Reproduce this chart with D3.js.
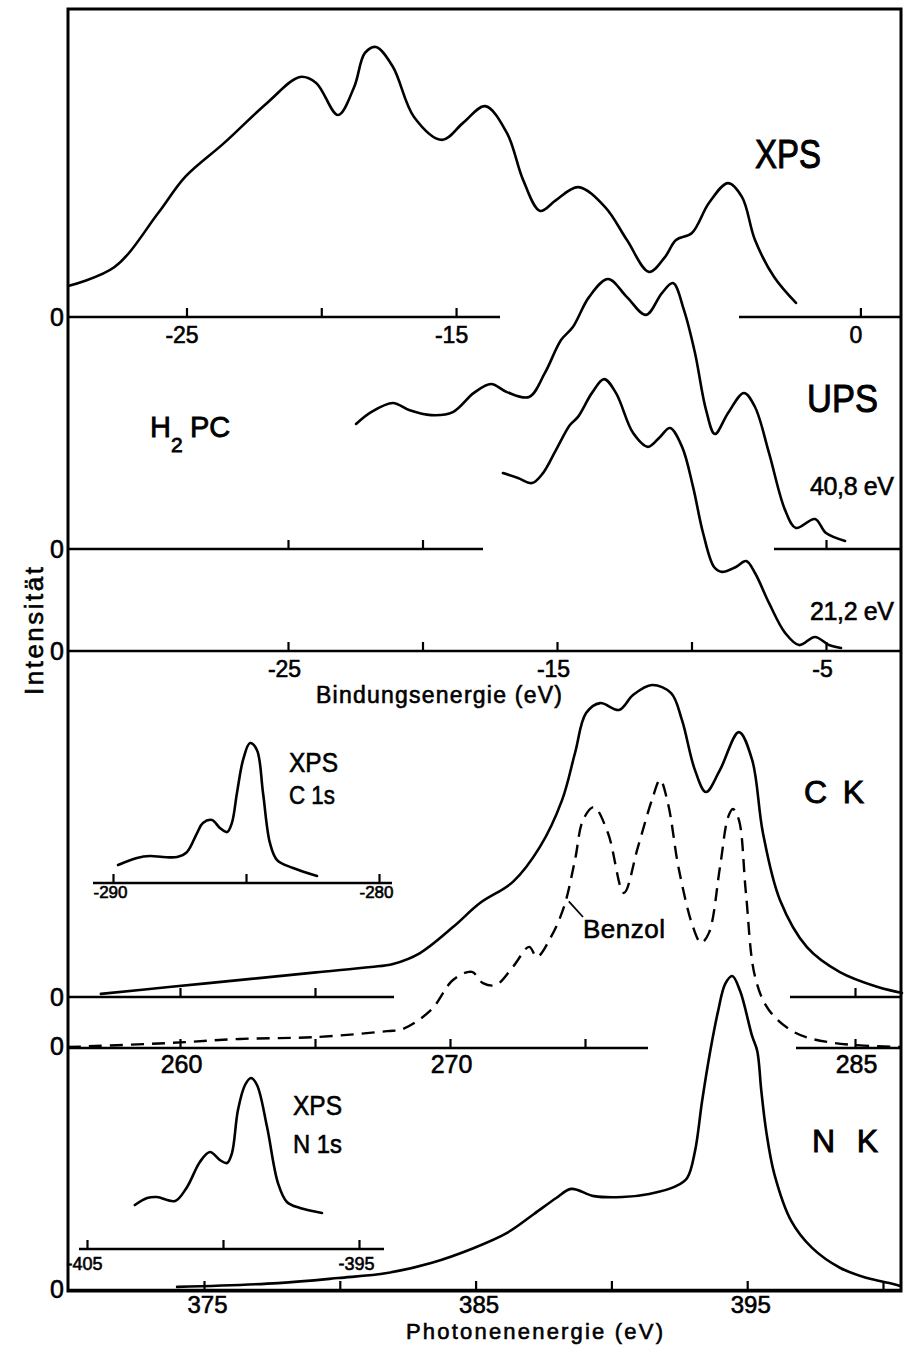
<!DOCTYPE html>
<html><head><meta charset="utf-8">
<script src="https://cdn.jsdelivr.net/npm/d3@7"></script>
<style>
html,body{margin:0;padding:0;background:#fff;}
svg{display:block;}
text{font-family:"Liberation Sans", Arial, sans-serif; fill:#000; stroke:#000; stroke-width:0.6px;}
</style></head><body>
<svg id="chart" width="910" height="1345"></svg>
<script>
// ===== DATA =====
// XPS valence band of H2PC: binding energy (eV) / intensity (a.u.)
const xpsEnergy = [-29.39,-27.67,-26.05,-25.05,-23.61,-22.01,-20.79,-20.19,-19.38,-18.78,-18.38,-17.97,-17.34,-16.56,-15.52,-14.74,-13.92,-13.11,-12.51,-11.88,-11.29,-10.47,-9.47,-8.66,-7.84,-7.25,-6.84,-6.25,-5.62,-4.91,-4.39,-3.91,-3.20,-2.39];
const xpsIntensity = [11.5,18.5,38.5,51.9,64.4,79.3,88.9,86.7,74.8,85.2,97.8,100,92.6,74.1,65.6,71.9,78.1,68.1,50.7,39.3,43.3,48.1,40.7,28.5,16.7,22.2,28.5,31.1,42.2,49.6,44.4,28.5,14.8,5.2];

// UPS 40,8 eV
const ups40Energy = [-22.47,-21.91,-21.10,-20.50,-19.68,-18.87,-18.09,-17.45,-16.86,-16.04,-15.45,-14.85,-14.41,-13.81,-13.10,-12.40,-11.69,-11.10,-10.69,-10.28,-9.87,-9.46,-9.13,-8.64,-8.05,-7.64,-7.12,-6.52,-6.12,-5.41,-5.00,-4.29];
const ups40Intensity = [46.3,50.7,54.1,51.5,49.6,50.7,57.8,61.1,58.1,56.3,65.2,77.4,82.2,93.3,100,93.3,86.7,94.8,98.5,88.5,72.6,51.5,42.6,50.4,57.8,52.6,35.6,14.4,7.8,11.1,5.9,3.0];

// UPS 21,2 eV
const ups21Energy = [-17.01,-16.45,-15.93,-15.52,-15.04,-14.52,-14.22,-13.70,-13.25,-12.81,-12.17,-11.62,-11.17,-10.80,-10.35,-9.94,-9.57,-9.16,-8.87,-8.35,-7.97,-7.64,-7.12,-6.52,-6.00,-5.41,-4.89,-4.44];
const ups21Intensity = [65.9,64.1,62.2,65.9,74.4,83.7,86.7,95.6,100.7,95.6,80.7,75.6,79.3,82.6,75.6,60.7,43.7,31.1,29.3,31.1,33.3,28.9,17.8,6.7,2.2,5.2,2.2,1.1];

// C K emission (photon energy eV)
const ckEnergy = [257.07,259.59,262.63,265.04,267.07,267.89,268.89,270.11,271.11,272.33,273.33,274.15,274.63,275.04,275.56,276.26,276.78,277.48,278.19,278.59,279.07,279.48,280.00,280.70,281.19,281.59,282.22,283.22,284.44,285.85,286.74];
const ckIntensity = [1.0,3.2,5.8,7.9,9.6,10.6,14.1,22.4,30.1,36.9,48.1,63.1,78.2,91.0,94.2,92.0,96.8,100,97.4,88.8,72.8,65.7,72.8,84.9,76.0,52.6,31.1,16.0,8.0,3.2,1.3];

// Benzol C K (dashed)
const benzolEnergy = [255.85,259.59,262.22,265.0,267.67,268.26,269.30,270.11,270.81,271.22,271.70,272.33,272.93,273.22,273.74,274.22,274.63,274.93,275.33,275.85,276.44,276.96,277.48,277.78,278.07,278.48,279.0,279.30,279.59,280.0,280.30,280.48,280.70,280.96,281.30,281.81,282.81,284.22,286.74];
const benzolIntensity = [0.3,1.6,2.9,3.5,5.4,6.1,12.2,21.8,24.4,20.8,20.2,26.0,32.4,29.2,35.6,45.2,60.3,73.1,77.2,68.9,49.7,64.4,79.5,85.9,78.5,57.1,38.8,33.7,36.9,58.0,74.0,76.6,73.1,49.7,22.8,12.2,4.8,1.6,0.3];

// N K emission
const nkEnergy = [374.01,377.73,379.94,381.74,383.36,384.94,386.16,387.15,387.97,388.52,389.36,390.40,391.39,392.38,392.79,393.08,393.34,393.64,393.93,394.19,394.45,394.74,395.18,395.37,395.52,395.70,396.00,396.62,397.39,398.43,399.42,400.23,400.64];
const nkIntensity = [1.0,2.2,3.8,5.4,8.6,13.4,18.2,24.2,29.3,32.2,29.9,29.6,30.6,33.1,35.7,44.3,60.2,76.1,88.9,97.5,100,95.2,80.9,76.1,63.4,50.6,36.9,22.0,13.4,7.0,3.8,2.2,1.3];

// XPS C 1s inset
const c1sEnergy = [-289.81,-289.10,-288.61,-288.12,-287.59,-287.22,-286.84,-286.62,-286.28,-285.98,-285.71,-285.53,-285.34,-285.11,-284.85,-284.59,-284.36,-284.10,-283.83,-283.23,-282.33];
const c1sIntensity = [12.9,17.9,19.3,18.6,18.6,22.1,35.7,42.9,45.0,39.3,36.4,42.9,64.3,87.9,100,95.0,64.3,28.6,16.4,10.7,5.0];

// XPS N 1s inset
const n1sEnergy = [-403.24,-402.79,-402.43,-401.76,-401.32,-400.85,-400.48,-400.11,-399.85,-399.67,-399.45,-399.19,-398.97,-398.75,-398.38,-397.98,-397.65,-397.17,-396.36];
const n1sIntensity = [25.7,29.8,30.4,28.1,36.3,50.9,56.7,52.0,50.3,56.1,81.3,95.9,100,95.9,71.3,38.6,27.5,24.0,21.1];

// Ticks and tick labels
const xpsTicks = [-25,-20,-15,0];             const xpsTickLabels = ["-25","","-15","0"];
const ups40Ticks = [-25,-20,-5];              const ups40TickLabels = ["","",""];
const upsTicks = [-25,-20,-15,-10,-5];        const upsTickLabels = ["-25","","-15","","-5"];
const ckTicks = [260,265,285];                const ckTickLabels = ["","",""];
const benzolTicks = [260,265,270,275,285];    const benzolTickLabels = ["260","","270","","285"];
const nkTicks = [375,380,385,390,395,400];    const nkTickLabels = ["375","","385","","395",""];
const c1sTicks = [-290,-285,-280];            const c1sTickLabels = ["-290","","-280"];
const n1sTicks = [-405,-400,-395];            const n1sTickLabels = ["-405","","-395"];

// ===== DRAWING =====
const svg = d3.select("#chart");
const FRAME = {x0:68, x1:901, y0:9, y1:1291};

// scales
const xXps  = d3.scaleLinear().domain([-25,0]).range([186.5,860.4]);
const yXps  = d3.scaleLinear().domain([0,100]).range([317,47]);
const xUps  = d3.scaleLinear().domain([-25,-5]).range([288,826]);
const yUps40= d3.scaleLinear().domain([0,100]).range([549,279]);
const yUps21= d3.scaleLinear().domain([0,100]).range([651,381]);
const xCk   = d3.scaleLinear().domain([260,285]).range([180,855]);
const yCk   = d3.scaleLinear().domain([0,100]).range([997,685]);
const yBz   = d3.scaleLinear().domain([0,100]).range([1048,736]);
const xNk   = d3.scaleLinear().domain([375,400]).range([204,883]);
const yNk   = d3.scaleLinear().domain([0,100]).range([1290,976]);
const xC1s  = d3.scaleLinear().domain([-290,-280]).range([113,379]);
const yC1s  = d3.scaleLinear().domain([0,100]).range([883,743]);
const xN1s  = d3.scaleLinear().domain([-405,-395]).range([87,359]);
const yN1s  = d3.scaleLinear().domain([0,100]).range([1249,1078]);

// frame
svg.append("rect").attr("x",FRAME.x0).attr("y",FRAME.y0)
  .attr("width",FRAME.x1-FRAME.x0).attr("height",FRAME.y1-FRAME.y0)
  .attr("fill","none").attr("stroke","#000").attr("stroke-width",3);

function axis(xS, yPix, ticks, labels, segs, labelOff, fs, dx){
  const g = svg.append("g").attr("transform",`translate(0,${yPix})`);
  g.call(d3.axisBottom(xS).tickValues(ticks).tickFormat((d,i)=>labels[i])
    .tickSizeInner(-9).tickSizeOuter(0));
  g.select(".domain").remove();
  g.attr("font-family",null).attr("font-size",fs);
  g.selectAll(".tick line").attr("stroke","#000").attr("stroke-width",2.2);
  g.selectAll(".tick text").attr("y",labelOff).attr("dy",0).attr("dx",dx)
    .attr("fill","#000").attr("font-size",fs).style("font-size",fs+"px");
  segs.forEach(([a,b])=>{
    g.append("line").attr("x1",a).attr("x2",b).attr("y1",0).attr("y2",0)
      .attr("stroke","#000").attr("stroke-width",2.6);
  });
}

axis(xXps, 317, xpsTicks, xpsTickLabels, [[68,500],[739,901]], 26, 23, -5);
axis(xUps, 549, ups40Ticks, ups40TickLabels, [[68,483],[774,901]], 26, 23, -4);
axis(xUps, 651, upsTicks, upsTickLabels, [[68,901]], 26, 23, -4);
axis(xCk, 997, ckTicks, ckTickLabels, [[68,394],[790,901]], 25, 25, 0);
axis(xCk, 1048, benzolTicks, benzolTickLabels, [[68,648],[796,901]], 25, 25, 1);
axis(xNk, 1290, nkTicks, nkTickLabels, [[68,901]], 23, 24, 3);
axis(xC1s, 883, c1sTicks, c1sTickLabels, [[93,392]], 15, 17, -3);
axis(xN1s, 1249, n1sTicks, n1sTickLabels, [[79,384]], 21, 18, -3);

function curve(xs, ys, xS, yS, dashed){
  const pts = xs.map((e,i)=>[e, ys[i]]);
  const line = d3.line().x(d=>xS(d[0])).y(d=>yS(d[1])).curve(d3.curveCatmullRom.alpha(0.5));
  const p = svg.append("path").attr("d", line(pts)).attr("fill","none")
    .attr("stroke","#000").attr("stroke-width",2.6).attr("stroke-linejoin","round").attr("stroke-linecap","round");
  if (dashed) p.attr("stroke-dasharray","13,8").attr("stroke-width",2.4).attr("stroke-linecap","butt");
}

curve(xpsEnergy, xpsIntensity, xXps, yXps);
curve(ups40Energy, ups40Intensity, xUps, yUps40);
curve(ups21Energy, ups21Intensity, xUps, yUps21);
curve(ckEnergy, ckIntensity, xCk, yCk);
curve(benzolEnergy, benzolIntensity, xCk, yBz, true);
curve(nkEnergy, nkIntensity, xNk, yNk);
curve(c1sEnergy, c1sIntensity, xC1s, yC1s);
curve(n1sEnergy, n1sIntensity, xN1s, yN1s);

// Benzol leader line
svg.append("line").attr("x1",xCk(274.4)).attr("y1",yBz(47)).attr("x2",583).attr("y2",917)
  .attr("stroke","#000").attr("stroke-width",1.8);

// labels
function label(txt, x, y, size, len, adj){
  const t = svg.append("text").attr("x",x).attr("y",y).attr("font-size",size).text(txt);
  if (len) t.attr("textLength",len).attr("lengthAdjust",adj||"spacingAndGlyphs");
  return t;
}
label("XPS", 755, 168, 40, 66).style("stroke-width","1px");
label("UPS", 807, 412, 39, 71).style("stroke-width","1px");
label("40,8 eV", 810, 495, 25, 84, "spacing");
label("21,2 eV", 810, 620, 25, 84, "spacing");
label("Bindungsenergie (eV)", 316, 703, 23, 246, "spacing");
label("XPS", 289, 772, 27, 49);
label("C 1s", 289, 804, 26, 46);
label("C K", 804, 803, 32, 60, "spacing").style("stroke-width","0.9px");
label("Benzol", 583, 938, 26, 82, "spacing");
label("XPS", 293, 1115, 28, 49);
label("N 1s", 293, 1153, 26, 49);
label("N K", 812, 1152, 32, 66, "spacing").style("stroke-width","0.9px");
label("Photonenenergie (eV)", 406, 1339, 22, 257, "spacing");

// H2PC with subscript
const h2 = svg.append("text").attr("y",437).attr("font-size",29).style("stroke-width","0.8px");
h2.append("tspan").attr("x",150).text("H");
h2.append("tspan").attr("x",171).attr("dy",15).attr("font-size",21).text("2");
h2.append("tspan").attr("x",190).attr("dy",-15).text("PC");

// y axis label
svg.append("text").attr("transform","translate(43,695) rotate(-90)")
  .attr("font-size",26).attr("textLength",128).attr("lengthAdjust","spacing").text("Intensität");

// zero labels
[326,558,660,1006,1055,1298].forEach(y=>{
  svg.append("text").attr("x",64).attr("y",y).attr("font-size",25)
    .attr("text-anchor","end").text("0");
});
</script>
</body></html>
